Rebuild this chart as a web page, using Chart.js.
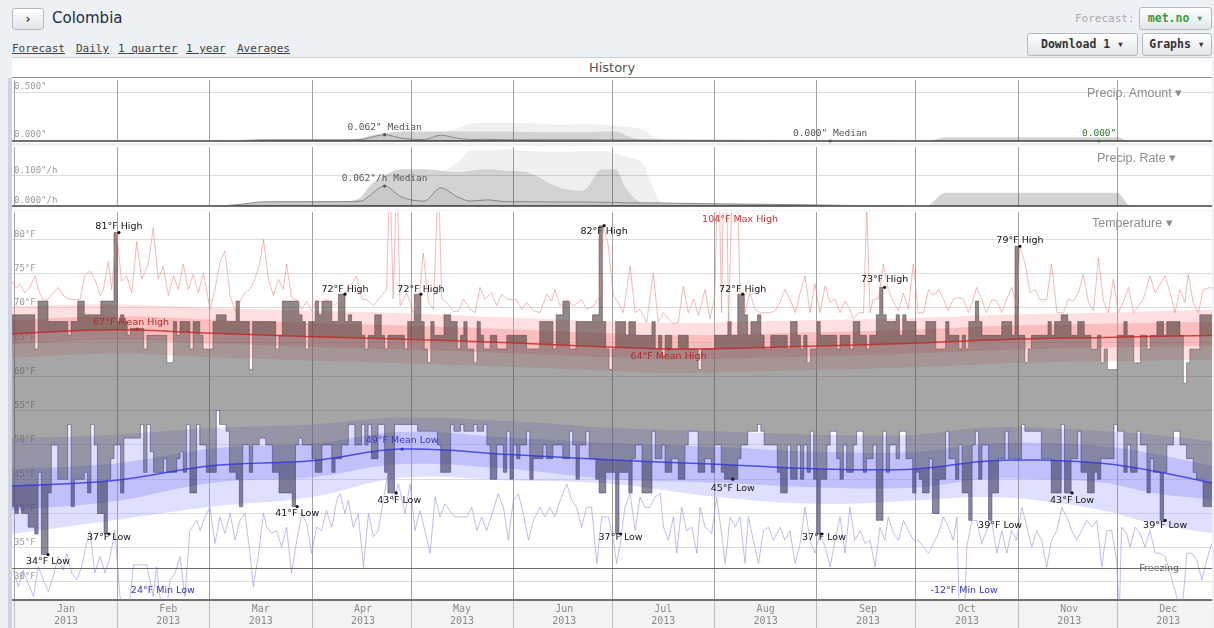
<!DOCTYPE html>
<html>
<head>
<meta charset="utf-8">
<script src="https://cdn.jsdelivr.net/npm/chart.js@4.4.1/dist/chart.umd.min.js"></script>
<style>
  html, body { margin: 0; padding: 0; }
  body { width: 1214px; height: 628px; overflow: hidden; background: #edf0f5; position: relative; font-family: "DejaVu Sans", sans-serif; }
  .a { position: absolute; white-space: nowrap; }
  .btn { position: absolute; box-sizing: border-box; border: 1px solid #b5bac2; border-radius: 3px; background: linear-gradient(#ffffff, #e2e5ea); font: bold 11.5px "DejaVu Sans Mono", monospace; color: #333; text-align: center; white-space: nowrap; }
  .tab { position: absolute; top: 42px; font: 11px "DejaVu Sans Mono", monospace; color: #444; text-decoration: underline; line-height: 13px; }
  .box { position: absolute; left: 12px; width: 1200px; background: #fff; }
  .ttl { position: absolute; font: 12.5px "Liberation Sans", Arial, sans-serif; color: #8e8e8e; line-height: 14px; z-index: 5; }
</style>
</head>
<body>
<div class="btn" style="left:12px;top:8px;width:32px;height:22px;line-height:20px;font-size:13px;">›</div>
<div class="a" style="left:52px;top:9px;font-size:15px;color:#1d2b48;line-height:18px;">Colombia</div>
<div class="tab" style="left:12px;">Forecast</div>
<div class="tab" style="left:76px;">Daily</div>
<div class="tab" style="left:118px;">1 quarter</div>
<div class="tab" style="left:186px;">1 year</div>
<div class="tab" style="left:237px;">Averages</div>
<div class="a" style="left:1075px;top:12px;font:11px 'DejaVu Sans Mono',monospace;color:#ababab;">Forecast:</div>
<div class="btn" style="left:1139px;top:7px;width:73px;height:23px;line-height:21px;color:#3a9a3a;">met.no ▾</div>
<div class="btn" style="left:1027px;top:33px;width:111px;height:23px;line-height:21px;">Download 1 ▾</div>
<div class="btn" style="left:1142px;top:33px;width:70px;height:23px;line-height:21px;">Graphs ▾</div>
<div class="a" style="left:12px;top:57px;width:1200px;height:19px;background:#fff;border-top:1px solid #c9cdd3;border-bottom:2px solid #8d9299;text-align:center;font-size:13px;line-height:19px;color:#555;">History</div>
<div class="a" style="left:8px;top:78px;width:4px;height:550px;background:#cbd4e0;"></div>

<div class="box" style="top:78px;height:65px;"><canvas id="amtChart"></canvas></div>
<div class="box" style="top:146px;height:64px;"><canvas id="rateChart"></canvas></div>
<div class="box" style="top:211px;height:417px;">
  <div class="a" style="left:0;top:389px;width:1200px;height:28px;background:#f3f3f3;"></div>
  <canvas id="tempChart" style="position:relative;"></canvas>
</div>
<div class="ttl" style="left:1087px;top:86px;">Precip. Amount ▾</div>
<div class="ttl" style="left:1097px;top:151px;">Precip. Rate ▾</div>
<div class="ttl" style="left:1092px;top:216px;">Temperature ▾</div>

<script>
// ---- axis categories ----
const monthNames  = ['Jan','Feb','Mar','Apr','May','Jun','Jul','Aug','Sep','Oct','Nov','Dec'];
const monthStarts = [0, 31, 59, 90, 120, 151, 181, 212, 243, 273, 304, 334];
const yearLabel   = '2013';
const tempTicks   = [30, 35, 40, 45, 50, 55, 60, 65, 70, 75, 80];
const amtTicks    = [0, 0.5];
const rateTicks   = [0, 0.1];

// ---- daily highs (°F), first value is Dec 31 2012 ----
const highDec2012 = [68];
const highJan = [69,69,69,69,69,69,69,64,71,71,71,68,68,68,68,68,68,66,68,68,71,71,69,69,69,69,69,71,71,71,71];
const highFeb = [81,68,69,68,66,67,67,67,67,64,66,66,66,66,66,66,62,62,68,66,68,68,68,64,68,68,66,64];
const highMar = [64,64,68,69,69,69,68,68,68,71,68,68,68,61,68,68,68,68,68,68,68,64,66,71,71,71,71,71,69,68,64];
const highApr = [68,68,71,69,71,71,71,68,68,72,72,68,69,68,68,68,66,64,66,66,69,69,66,64,66,66,66,66,66,64];
const highMay = [68,68,72,72,68,64,62,68,66,66,66,69,69,68,68,64,66,68,64,64,62,68,66,64,64,66,66,64,64,64,66];
const highJun = [66,66,66,66,66,64,64,64,64,68,68,68,68,64,69,69,71,71,64,64,68,68,68,68,68,69,69,82,68,64];
const highJul = [61,64,68,68,68,66,68,68,66,66,66,66,66,68,64,66,63,66,66,64,64,66,66,66,64,64,64,61,64,64,64];
const highAug = [64,66,66,66,66,68,66,66,72,72,69,66,68,68,69,66,64,64,66,66,66,66,66,64,68,68,66,64,66,62,64];
const highSep = [64,68,66,66,66,66,66,64,66,66,66,64,68,68,66,66,64,66,66,69,73,69,68,68,68,69,66,69,68,68];
const highOct = [68,66,66,66,68,68,68,64,64,64,68,66,66,66,64,66,64,68,68,71,68,66,66,66,66,66,66,68,68,68,66];
const highNov = [79,66,66,62,64,66,66,66,66,66,68,66,68,68,69,69,68,66,66,68,68,66,66,64,64,66,62,64,61,61];
const highDec = [61,66,66,68,66,66,62,62,66,66,64,66,66,68,68,66,68,68,68,68,66,59,62,64,64,64,69,69,69,69,69];

// ---- daily lows (°F), first value is Dec 31 2012 ----
const lowDec2012 = [40];
const lowJan = [41,40,41,40,40,38,38,37,46,34,34,43,50,50,45,45,45,53,41,45,45,45,46,43,53,50,40,40,37,45,48];
const lowFeb = [50,50,43,51,51,51,51,51,53,46,53,49,46,46,46,48,46,46,46,48,49,46,53,43,43,53,50,50];
const lowMar = [46,46,46,55,53,53,52,46,46,45,41,50,50,46,50,50,51,51,50,50,46,46,43,43,43,43,41,50,51,50,50];
const lowApr = [50,48,46,46,50,50,50,46,48,48,50,50,53,53,50,50,53,50,53,48,48,53,53,46,43,43,53,53,53,53];
const lowMay = [53,53,53,52,52,52,52,52,52,50,46,46,46,53,52,52,53,52,52,52,53,52,52,53,50,45,45,50,50,46,52];
const lowJun = [45,50,48,50,50,52,45,48,48,48,50,48,48,50,50,50,48,48,52,50,45,50,50,52,48,48,45,43,43,46];
const lowJul = [46,46,37,46,46,46,43,48,50,50,43,43,43,52,48,48,50,46,46,48,48,45,45,50,52,52,52,46,46,48,48];
const lowAug = [46,50,50,46,45,45,45,45,48,50,50,52,52,52,53,52,50,50,50,50,46,43,43,50,45,45,50,45,50,46,52];
const lowSep = [45,37,45,45,50,52,52,48,45,50,46,46,50,52,52,46,48,48,50,39,39,52,46,50,50,48,52,52,48,48];
const lowOct = [43,46,45,43,43,48,40,40,45,45,52,48,48,45,50,43,43,39,50,52,45,50,50,39,43,43,48,48,52,48,48];
const lowNov = [48,48,53,52,52,52,52,52,48,48,48,43,43,43,53,43,43,48,48,52,46,46,43,43,46,45,48,48,48,48];
const lowDec = [53,52,52,46,50,46,46,52,50,50,43,48,46,46,39,46,50,50,52,52,50,50,48,48,46,45,45,41,41,41,41];

// ---- mean high and its percentile bands (day, °F) ----
const meanHighDay  = [-1, 30, 60, 90, 120, 150, 180, 200, 240, 270, 300, 330, 364];
const meanHigh     = [66.2, 66.8, 66.3, 65.8, 65.4, 64.9, 64.3, 64.0, 64.4, 64.8, 65.4, 65.7, 66.0];
const redOuterTop  = [70.3, 70.5, 70.0, 69.6, 69.2, 68.6, 68.0, 67.8, 68.2, 68.5, 69.0, 69.3, 69.8];
const redInnerTop  = [68.2, 68.8, 68.3, 67.8, 67.4, 66.9, 66.3, 66.0, 66.4, 66.8, 67.4, 67.7, 68.0];
const redInnerBot  = [64.7, 65.3, 64.8, 64.3, 63.9, 63.4, 62.8, 62.5, 62.9, 63.3, 63.9, 64.2, 64.5];
const redOuterBot  = [62.7, 63.3, 62.8, 62.3, 61.9, 61.4, 60.8, 60.5, 60.9, 61.3, 61.9, 62.2, 62.5];

// ---- mean low and its percentile bands (day, °F) ----
const meanLowDay   = [-1, 30, 60, 90, 117, 150, 181, 213, 244, 273, 293, 310, 330, 345, 364];
const meanLow      = [44.0, 44.8, 47.0, 47.7, 49.4, 48.6, 47.8, 47.2, 46.5, 46.5, 47.6, 47.8, 47.3, 46.2, 44.3];
const blueOuterTop = [51.0, 51.5, 52.5, 53.0, 54.0, 53.5, 52.5, 52.0, 51.5, 51.5, 52.5, 52.5, 52.0, 51.5, 50.5];
const blueInnerTop = [46.5, 47.3, 49.5, 50.2, 51.9, 51.1, 50.3, 49.7, 49.0, 49.0, 50.1, 50.3, 49.8, 48.7, 46.8];
const blueInnerBot = [40.5, 41.8, 44.5, 45.3, 47.2, 46.5, 45.0, 44.5, 43.8, 43.8, 45.0, 45.0, 44.5, 43.0, 42.0];
const blueOuterBot = [37.0, 39.0, 41.0, 42.4, 45.2, 44.8, 44.3, 42.4, 41.4, 41.9, 42.4, 41.9, 40.4, 38.5, 37.0];

// ---- record high / record low lines [day, °F] ----
const recordHigh = [[-1,73.9],[0.5,72.9],[1.5,73.5],[3,72.2],[4.5,73],[6.1,74.7],[7.1,72.7],[8.6,71],[10.1,71.3],[11.6,72.2],[13.1,73],[14.6,71.8],[16.2,71.3],[17.7,71.2],[19.7,71.2],[21.2,74.7],[22.7,75.4],[24.2,74.2],[25.8,71.8],[26.8,72.7],[28.3,76.8],[29.3,72.7],[30.8,81],[32.3,73.9],[33.8,74.7],[35.4,72.2],[36.9,79.7],[38.4,74.2],[40.4,76.4],[41.9,81.7],[43.4,74.2],[44.9,76.1],[46.5,71.8],[48,74.7],[49.5,72.7],[51,76.4],[52.5,72.7],[54,74.9],[55.6,72.2],[57.1,75.1],[59.1,69.8],[60.6,72.7],[62.1,76.6],[63.6,78.3],[65.2,71.8],[66.7,69.6],[68.2,71],[69.7,72.2],[71.2,72.7],[72.7,74.2],[74.2,76.6],[75.3,80],[76.8,74.2],[78.3,71.8],[79.8,74.2],[81.3,72.7],[82.3,76.4],[83.8,71.5],[85.4,71.2],[86.9,69.8],[88.4,71],[89.9,69.6],[91.4,71.2],[92.9,70.8],[94.4,71.3],[96.5,70.3],[98.5,71],[100,72],[101.5,73],[103.5,74.7],[105.1,71.3],[106.6,71.2],[108.6,70.3],[110.6,71.5],[112.6,72.7],[113.6,90],[114.6,71.3],[115.7,90],[116.7,70.3],[118.7,72.2],[120.7,69.3],[122.7,72.7],[123.7,78],[125.3,70.8],[126.8,69.8],[128.3,90],[129.3,71.3],[130.8,70.8],[132.8,69.5],[134.3,69.5],[135.9,71.3],[137.9,69.8],[139.4,69.3],[140.9,73],[142.4,71.3],[144.4,72.2],[146,70.3],[147.5,72],[149,71.3],[150.5,71.2],[152,71.2],[153.5,69.8],[155.1,70.8],[157.1,69.6],[159.1,69.3],[161.1,72],[162.6,71],[163.6,72.7],[165.2,70.3],[167.2,71.2],[169.2,70.3],[171.7,71.2],[173.2,69.8],[175.3,70.3],[177.3,71.8],[178.3,82],[179.8,79],[181.3,71.8],[182.8,70.8],[184.3,69.3],[186.4,76.1],[187.9,69.3],[189.4,69.8],[191.4,67.9],[193.4,75.1],[194.9,67.9],[196.5,69.3],[198,68.4],[199.5,67.7],[201,67.9],[202.5,73.2],[204,69.3],[205.6,71.3],[207.1,68.9],[209.1,72.7],[210.6,68.4],[212.1,71.8],[213.1,95],[214.1,69.3],[215.2,104],[216.2,67.9],[217.7,95],[218.7,92],[219.7,72],[221.2,69.3],[222.7,72.2],[224.2,69.8],[225.8,69.3],[227.3,69.3],[228.8,69.3],[230.3,69.6],[231.8,70.8],[233.3,72.7],[234.8,71.3],[236.4,69.3],[237.9,72.2],[239.4,74.7],[240.9,69.3],[242.4,73.5],[243.9,69.3],[245.5,73.2],[247,70.8],[248.5,71.3],[250,69.3],[251.5,71],[253,69.8],[254,68.4],[255.6,69.3],[257.1,69.3],[258.1,84.5],[259.1,69.3],[260.1,71.3],[261.6,71.3],[263.1,76.4],[264.6,72.7],[266.2,70.8],[267.7,69.6],[269.2,72.2],[270.7,69.8],[272.2,76.4],[273.7,69.3],[275.3,69.3],[276.8,72.7],[278.3,71.8],[279.8,72.7],[281.3,71.3],[282.8,69.6],[284.3,71.3],[285.9,71.5],[287.4,71.3],[288.9,69.3],[290.4,71.3],[291.4,73],[292.9,71.3],[294.4,69.3],[296,71.2],[297.5,71],[299,69.3],[300.5,71.3],[302,73],[303.5,70.3],[304.5,79],[306.1,76.4],[307.6,72.2],[309.1,72.7],[310.6,71.2],[312.6,71.2],[314.1,76.4],[315.7,69.3],[317.7,69.3],[319.2,71.3],[320.7,71],[322.2,72.2],[323.7,74.9],[325.3,70.8],[326.8,69.6],[328.3,77.3],[329.8,71],[331.3,69.3],[332.8,74.2],[334.3,69.3],[335.9,71],[337.4,73],[338.9,69.3],[340.4,70.3],[341.9,71.3],[343.9,74.7],[345.5,72.2],[347,73.5],[348.5,74.7],[350,72.2],[351.5,69.3],[353,72.7],[354.5,70.8],[355.5,74.9],[357,70.8],[358.6,69.3],[360.1,72.7],[362.1,73],[363.3,72.7]];
const recordLow = [[-0.5,31.7],[1,29.3],[2.5,31.7],[4,29.8],[5.6,27.9],[7.1,32.2],[8.6,30.3],[10.1,28.6],[11.6,30.8],[13.1,33.7],[14.6,31.7],[15.7,34.2],[17.2,31.3],[18.7,30.3],[20.2,32.2],[21.7,35.6],[22.7,37.5],[24.2,31.3],[25.8,33.7],[27.3,31.3],[28.8,33.7],[30.3,37.5],[31.8,27.9],[33.3,26.4],[34.8,27.4],[35.9,32.5],[37.9,32.5],[39.9,32.5],[41.9,27.9],[42.9,32.2],[43.9,27.9],[45.5,24],[47,30.3],[48.5,31.3],[50,33.7],[51.5,27.9],[53,37.5],[55.1,39],[56.1,37.5],[57.6,39.5],[59.1,40.9],[60.6,35.6],[62.1,39.5],[63.6,37.1],[65.2,40],[66.7,36.1],[68.2,39],[69.7,40],[71.2,34.2],[72.2,29.3],[73.7,33.7],[75.3,40],[76.3,38],[77.8,37.1],[79.3,37.5],[80.8,35.1],[82.3,38],[83.8,31.3],[85.4,36.1],[86.9,40],[88.4,38.5],[89.9,34.2],[91.4,38],[92.9,37.5],[94.4,40.4],[96,38],[97.5,41.9],[98.5,42.9],[100,40],[101,41.9],[102.5,38],[104,40],[105.6,32.2],[107.1,40],[108.6,36.6],[110.1,37.5],[111.6,41.9],[113.1,46.2],[114.6,41.9],[116.2,44.3],[118.2,40],[119.7,44.3],[121.2,37.5],[122.7,40.4],[124.2,37.5],[125.8,34.2],[127.3,42.4],[128.8,39.5],[130.3,41.4],[131.8,40.4],[133.3,39.5],[134.8,39.5],[136.9,39.5],[138.4,40.9],[139.9,37.5],[141.4,39.5],[142.9,37.5],[144.9,40.4],[146.4,42.9],[148,40.9],[149.5,36.1],[151,41.9],[152.5,42.9],[154,40],[155.6,36.1],[157.1,39],[159.1,40.9],[160.6,39.5],[162.1,40.9],[163.6,39.5],[165.2,41.9],[167.2,44.3],[168.7,41.9],[170.2,40.9],[171.7,38],[173.2,40.9],[174.7,40.9],[176.3,32.7],[177.8,39.5],[179.8,39.5],[181.3,36.1],[182.3,32.7],[183.3,35.1],[184.8,40.9],[186.4,42.9],[187.9,37.5],[189.4,42.4],[190.9,40.9],[192.4,40.9],[193.9,42.4],[195.5,42.9],[196.5,38],[198,36.1],[199.5,39.5],[200.5,34.2],[202,40.9],[203.5,37.5],[205.1,38],[206.6,34.2],[207.6,40.9],[209.1,38],[211.1,37.1],[212.6,42.4],[214.1,37.1],[215.2,32.7],[216.7,39.5],[218.2,38],[219.7,39.5],[221.2,32.7],[222.2,39.5],[223.7,36.1],[225.3,32.7],[226.8,37.5],[228.3,38],[229.8,36.1],[231.8,38],[233.3,36.1],[234.8,37.5],[236.4,32.7],[237.9,35.6],[239.4,40.9],[240.9,36.1],[242.4,34.2],[243.9,37],[245.5,35.1],[247,32.2],[248.5,36.1],[250,39.5],[251.5,34.2],[253,40.9],[254.5,36.1],[256.1,37.5],[257.6,35.6],[259.1,36.1],[260.6,32.2],[262.1,38],[263.6,36.1],[264.6,39.5],[266.2,37.1],[267.7,36.1],[269.2,39],[270.7,37.5],[272.2,36.1],[273.7,36.1],[275.3,35.1],[276.8,34.2],[278.3,35.6],[279.8,37.1],[281.3,39.5],[282.8,38],[284.3,36.1],[285.4,39.5],[286.4,20],[286.9,-12],[287.4,20],[288.4,35.1],[289.9,38.9],[291.4,39],[292.9,35.6],[294.4,37.5],[295.9,39],[297.5,34.2],[299,37.5],[300.5,34.2],[302,37.5],[303.5,36.1],[305.1,40.9],[306.6,38],[308.1,35.1],[309.6,37.5],[311.1,36.1],[312.6,32.2],[314.1,36.1],[315.7,37.5],[317.2,40.9],[318.7,39.5],[320.2,37.5],[321.7,36.1],[323.2,37.5],[324.7,39],[326.3,38],[327.8,39],[329.3,32.2],[330.8,37.5],[332.3,37.5],[333.8,33.2],[334.6,25],[335.3,38],[336.8,37.1],[337.9,35.1],[339.4,38],[340.9,37.1],[342.4,35.1],[343.9,37.5],[345.5,34.2],[347,34.2],[348.5,33.7],[350,31.3],[352,27.9],[353.5,25],[355.1,34.2],[356.6,34.2],[358.1,33.2],[359.6,30.3],[361.1,33.2],[362.6,35.6]];

// ---- precipitation (day nodes, inches and inches/h) ----
const precDay    = [0, 60, 67, 76, 100, 105, 107, 112, 117, 124, 129, 134, 138, 143, 149, 155, 165, 172, 178, 182, 185, 190, 196, 200, 240, 270, 276, 282, 330, 334, 338, 345, 364];
const amtMedian  = [0, 0, 0.004, 0.013, 0.013, 0.015, 0.03, 0.066, 0.03, 0.015, 0.06, 0.03, 0.015, 0.018, 0.013, 0.013, 0.012, 0.012, 0.011, 0.011, 0.01, 0.01, 0.01, 0.009, 0.004, 0, 0, 0, 0, 0, 0, 0, 0];
const amtP75     = [0, 0, 0.004, 0.013, 0.015, 0.03, 0.05, 0.08, 0.1, 0.1, 0.1, 0.1, 0.1, 0.1, 0.1, 0.095, 0.09, 0.09, 0.1, 0.1, 0.06, 0.012, 0.01, 0.009, 0.004, 0, 0, 0.04, 0.04, 0.04, 0, 0, 0];
const amtP90     = [0, 0, 0.004, 0.013, 0.015, 0.03, 0.05, 0.08, 0.1, 0.1, 0.1, 0.13, 0.18, 0.19, 0.19, 0.185, 0.17, 0.175, 0.17, 0.16, 0.15, 0.12, 0.012, 0.009, 0.004, 0, 0, 0.04, 0.04, 0.04, 0, 0, 0];
const rateMedian = [0, 0, 0.004, 0.014, 0.014, 0.016, 0.03, 0.065, 0.03, 0.016, 0.059, 0.03, 0.016, 0.02, 0.014, 0.014, 0.013, 0.013, 0.012, 0.012, 0.01, 0.01, 0.01, 0.009, 0.004, 0, 0, 0, 0, 0, 0, 0, 0];
const rateP75    = [0, 0, 0.004, 0.014, 0.016, 0.03, 0.06, 0.1, 0.12, 0.12, 0.115, 0.11, 0.115, 0.12, 0.115, 0.11, 0.06, 0.05, 0.12, 0.12, 0.06, 0.012, 0.01, 0.009, 0.004, 0, 0, 0.043, 0.043, 0.043, 0, 0, 0];
const rateP90    = [0, 0, 0.004, 0.014, 0.016, 0.03, 0.06, 0.1, 0.12, 0.12, 0.115, 0.14, 0.18, 0.182, 0.185, 0.18, 0.175, 0.178, 0.18, 0.17, 0.16, 0.14, 0.012, 0.009, 0.004, 0, 0, 0.043, 0.043, 0.043, 0, 0, 0];

const dailyHigh = [].concat(highDec2012, highJan, highFeb, highMar, highApr, highMay, highJun, highJul, highAug, highSep, highOct, highNov, highDec);
const dailyLow  = [].concat(lowDec2012, lowJan, lowFeb, lowMar, lowApr, lowMay, lowJun, lowJul, lowAug, lowSep, lowOct, lowNov, lowDec);

const X_MIN = -0.9, X_MAX = 362.7;

const dayPts  = arr => arr.map((v, i) => ({ x: i - 1, y: v }));
const nodePts = (days, vals) => days.map((d, i) => ({ x: d, y: vals[i] }));
const pairPts = pairs => pairs.map(p => ({ x: p[0], y: p[1] }));

// text notes drawn through the scales
const notesPlugin = {
  id: 'notes',
  afterDraw(chart, args, opts) {
    const { ctx, chartArea } = chart;
    const x = chart.scales.x, y = chart.scales.y;
    ctx.save();
    if (opts.freezing !== undefined) {
      const py = Math.round(y.getPixelForValue(opts.freezing)) + 0.5;
      ctx.strokeStyle = 'rgba(85,85,85,0.85)';
      ctx.lineWidth = 1;
      ctx.beginPath();
      ctx.moveTo(chartArea.left, py);
      ctx.lineTo(chartArea.right, py);
      ctx.stroke();
    }
    (opts.items || []).forEach(n => {
      const px = x.getPixelForValue(n.x), py = y.getPixelForValue(n.y);
      if (n.dot) {
        ctx.fillStyle = n.color;
        ctx.beginPath();
        ctx.arc(px, py, 1.6, 0, Math.PI * 2);
        ctx.fill();
      }
      ctx.font = n.font || '9.5px "DejaVu Sans"';
      ctx.fillStyle = n.color;
      ctx.textAlign = 'center';
      ctx.textBaseline = 'middle';
      ctx.fillText(n.text, px + (n.dx || 0), py + (n.dy || 0));
    });
    ctx.restore();
  }
};

function monthAxis(showLabels) {
  return {
    type: 'linear', min: X_MIN, max: X_MAX,
    afterBuildTicks: s => { s.ticks = monthStarts.map(v => ({ value: v })); },
    afterFit: s => { s.height = showLabels ? 28 : 0; s.paddingLeft = 0; s.paddingRight = 0; },
    ticks: showLabels ? {
      autoSkip: false, maxRotation: 0, labelOffset: 51, padding: -25,
      color: '#8a8a8a', font: { family: 'DejaVu Sans Mono', size: 10 },
      callback: (v, i) => [monthNames[i], yearLabel]
    } : { display: false },
    grid: { color: 'rgba(70,70,70,0.5)', lineWidth: 1, drawTicks: showLabels, tickLength: 28, tickColor: 'rgba(90,90,90,0.35)' },
    border: { display: true, color: '#707070', width: 2 },
    z: 1
  };
}

function valueAxis(min, max, ticks, fmt, offset) {
  return {
    type: 'linear', min, max,
    afterBuildTicks: s => { s.ticks = ticks.map(v => ({ value: v })); },
    afterFit: s => { s.width = 0; s.paddingTop = 0; s.paddingBottom = 0; },
    ticks: { mirror: true, padding: 2, labelOffset: offset, color: '#9a9a9a', font: { family: 'DejaVu Sans Mono', size: 9 }, callback: fmt },
    grid: { color: 'rgba(185,185,185,0.5)', drawTicks: false },
    border: { display: false },
    z: 1
  };
}

function baseOptions(pad, xAxis, yAxis, notes) {
  return {
    responsive: true, maintainAspectRatio: false, animation: false,
    layout: { padding: pad },
    elements: { point: { radius: 0, hoverRadius: 0 } },
    plugins: { legend: { display: false }, tooltip: { enabled: false }, notes },
    scales: { x: xAxis, y: yAxis }
  };
}

function precipSets(median, p75, p90) {
  const common = { pointRadius: 0, tension: 0.4, cubicInterpolationMode: 'monotone', fill: 'origin' };
  return [
    Object.assign({ data: nodePts(precDay, median), borderColor: 'rgba(110,110,110,0.75)', borderWidth: 1, backgroundColor: 'rgba(0,0,0,0.05)', order: 1 }, common),
    Object.assign({ data: nodePts(precDay, p75), borderWidth: 0, backgroundColor: 'rgba(0,0,0,0.12)', order: 2 }, common),
    Object.assign({ data: nodePts(precDay, p90), borderWidth: 0, backgroundColor: 'rgba(0,0,0,0.06)', order: 3 }, common)
  ];
}

// Precip. Amount
new Chart(document.getElementById('amtChart'), {
  type: 'line',
  data: { datasets: precipSets(amtMedian, amtP75, amtP90) },
  options: baseOptions({ top: 2, bottom: 2, left: 0, right: 0 }, monthAxis(false),
    valueAxis(0, 0.6354, amtTicks, v => v.toFixed(3) + '"', -6),
    { items: [
      { text: '0.062" Median', x: 112, y: 0.066, dy: -7, color: '#555', dot: true, font: '9.5px "DejaVu Sans Mono"' },
      { text: '0.000" Median', x: 247, y: 0, dy: -7, color: '#555', dot: true, font: '9.5px "DejaVu Sans Mono"' },
      { text: '0.000"', x: 328.5, y: 0, dy: -7, color: '#2f7d2f', dot: true, font: '9.5px "DejaVu Sans Mono"' }
    ] }),
  plugins: [notesPlugin]
});

// Precip. Rate
new Chart(document.getElementById('rateChart'), {
  type: 'line',
  data: { datasets: precipSets(rateMedian, rateP75, rateP90) },
  options: baseOptions({ top: 1, bottom: 4, left: 0, right: 0 }, monthAxis(false),
    valueAxis(0, 0.192, rateTicks, v => v.toFixed(3) + '"/h', -5),
    { items: [
      { text: '0.062"/h Median', x: 112, y: 0.065, dy: -7, color: '#555', dot: true, font: '9.5px "DejaVu Sans Mono"' }
    ] }),
  plugins: [notesPlugin]
});

// Temperature
const stepSet = (data, extra) => Object.assign({ data, stepped: 'after', pointRadius: 0, borderWidth: 0, fill: false }, extra);
const curveSet = (data, extra) => Object.assign({ data, pointRadius: 0, borderWidth: 0, tension: 0.4, fill: false }, extra);

const tempSets = [
  /* 0 */ curveSet(nodePts(meanHighDay, meanHigh), { borderColor: 'rgba(200,35,35,0.8)', borderWidth: 1.5, order: 2 }),
  /* 1 */ curveSet(nodePts(meanLowDay, meanLow), { borderColor: 'rgba(50,50,225,0.8)', borderWidth: 1.5, order: 2 }),
  /* 2 */ { data: pairPts(recordHigh), pointRadius: 0, borderColor: 'rgba(240,125,125,0.55)', borderWidth: 1, fill: false, order: 4 },
  /* 3 */ { data: pairPts(recordLow), pointRadius: 0, borderColor: 'rgba(135,135,240,0.55)', borderWidth: 1, fill: false, order: 4 },
  /* 4 */ stepSet(dayPts(dailyHigh), { borderColor: 'rgba(115,80,80,0.55)', borderWidth: 1, fill: { target: 5 }, backgroundColor: 'rgba(70,70,70,0.48)', order: 6 }),
  /* 5 */ stepSet(dayPts(dailyLow), { borderColor: 'rgba(70,70,150,0.6)', borderWidth: 1, order: 5 }),
  /* 6 */ stepSet(dayPts(dailyHigh), { fill: { target: 0, above: 'rgba(60,20,20,0.2)', below: 'rgba(0,0,0,0)' }, order: 5.8 }),
  /* 7 */ stepSet(dayPts(dailyLow), { fill: { target: 1, above: 'rgba(0,0,0,0)', below: 'rgba(20,20,90,0.2)' }, order: 5.8 }),
  /* 8 */ curveSet(nodePts(meanHighDay, redOuterTop), { fill: { target: 9 }, backgroundColor: 'rgba(255,150,150,0.3)', order: 10 }),
  /* 9 */ curveSet(nodePts(meanHighDay, redOuterBot), { order: 10 }),
  /* 10 */ curveSet(nodePts(meanHighDay, redInnerTop), { fill: { target: 11 }, backgroundColor: 'rgba(240,100,100,0.28)', order: 9 }),
  /* 11 */ curveSet(nodePts(meanHighDay, redInnerBot), { order: 9 }),
  /* 12 */ curveSet(nodePts(meanLowDay, blueOuterTop), { fill: { target: 13 }, backgroundColor: 'rgba(150,150,255,0.3)', order: 10 }),
  /* 13 */ curveSet(nodePts(meanLowDay, blueOuterBot), { order: 10 }),
  /* 14 */ curveSet(nodePts(meanLowDay, blueInnerTop), { fill: { target: 15 }, backgroundColor: 'rgba(110,110,240,0.28)', order: 9 }),
  /* 15 */ curveSet(nodePts(meanLowDay, blueInnerBot), { order: 9 })
];

const dark = '#151515', red = '#b52a2a', blue = '#3434c0';
const tempNotes = [
  { text: '81°F High', x: 31.5, y: 81, dy: -6, color: dark, dot: true },
  { text: '72°F High', x: 100, y: 72, dy: -5, color: dark, dot: true },
  { text: '72°F High', x: 123, y: 72, dy: -5, color: dark, dot: true },
  { text: '82°F High', x: 178.5, y: 82, dy: 6, color: dark, dot: true },
  { text: '72°F High', x: 220.5, y: 72, dy: -5, color: dark, dot: true },
  { text: '73°F High', x: 263.5, y: 73, dy: -8, color: dark, dot: true },
  { text: '79°F High', x: 304.5, y: 79, dy: -6, color: dark, dot: true },
  { text: '67°F Mean High', x: 37, y: 66.9, dx: -6, dy: -7, color: red, dot: true },
  { text: '64°F Mean High', x: 198, y: 64.0, dy: 8, color: red, dot: true },
  { text: '104°F Max High', x: 219.7, y: 82.85, color: '#cc3333' },
  { text: '34°F Low', x: 10, y: 34, dy: 7, color: dark, dot: true },
  { text: '37°F Low', x: 28.5, y: 37, dy: 4, color: dark, dot: true },
  { text: '41°F Low', x: 85.5, y: 41, dy: 7, color: dark, dot: true },
  { text: '43°F Low', x: 115.5, y: 43, dy: 8, dx: 3, color: dark, dot: true },
  { text: '49°F Mean Low', x: 117.3, y: 49.4, dy: -9, color: blue, dot: true },
  { text: '37°F Low', x: 183.5, y: 37, dy: 4, color: dark, dot: true },
  { text: '45°F Low', x: 217.5, y: 45, dy: 9, color: dark, dot: true },
  { text: '37°F Low', x: 244.5, y: 37, dy: 4, dx: 2, color: dark, dot: true },
  { text: '39°F Low', x: 298.5, y: 39, dy: 5, color: dark },
  { text: '43°F Low', x: 320.3, y: 43, dy: 8, color: dark, dot: true },
  { text: '39°F Low', x: 348.5, y: 39, dy: 5, color: dark, dot: true },
  { text: '24°F Min Low', x: 44.8, y: 28.7, color: blue },
  { text: '-12°F Min Low', x: 287.6, y: 28.7, color: blue },
  { text: 'Freezing', x: 346.7, y: 32, color: '#666' }
];

new Chart(document.getElementById('tempChart'), {
  type: 'line',
  data: { datasets: tempSets },
  options: baseOptions({ top: 1, bottom: 0, left: 0, right: 0 }, monthAxis(true),
    valueAxis(27.37, 84.0, tempTicks, v => v + '°F', -5),
    { freezing: 32, items: tempNotes }),
  plugins: [notesPlugin]
});
</script>
</body>
</html>
